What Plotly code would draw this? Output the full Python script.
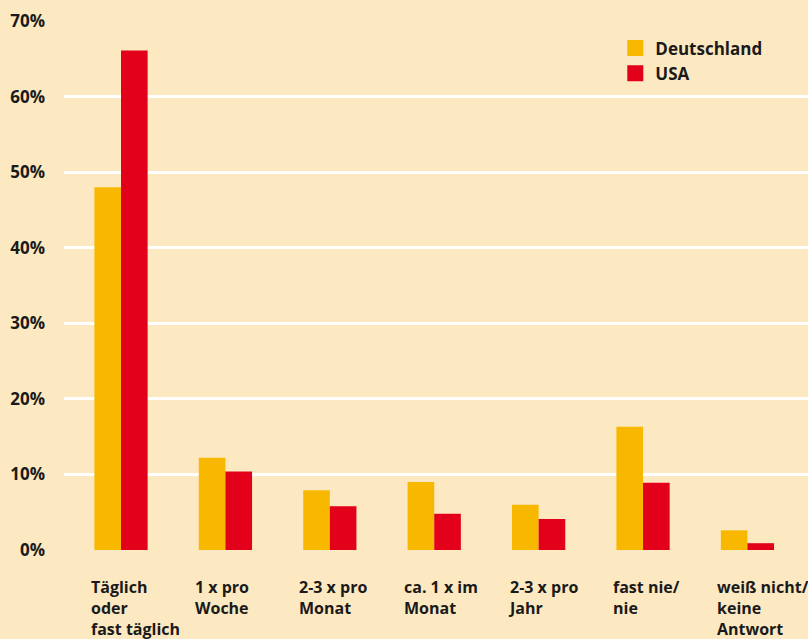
import plotly.graph_objects as go

categories = ["Täglich<br>oder<br>fast täglich", "1 x pro<br>Woche", "2-3 x pro<br>Monat",
              "ca. 1 x im<br>Monat", "2-3 x pro<br>Jahr", "fast nie/<br>nie",
              "weiß nicht/<br>keine<br>Antwort"]
deutschland = [48.0, 12.2, 7.9, 9.0, 6.0, 16.3, 2.6]
usa = [66.1, 10.4, 5.8, 4.8, 4.1, 8.9, 0.9]
y_ticks = [0, 10, 20, 30, 40, 50, 60, 70]

GOLD = "#F9B800"
RED = "#E2001A"
BG = "#FDE9C1"
FONT = "Open Sans"
INK = "#1a1a1a"

idx = list(range(len(categories)))
fig = go.Figure()
fig.add_trace(go.Bar(x=idx, y=deutschland, marker=dict(color=GOLD, line=dict(width=0)),
                     name="Deutschland", showlegend=False))
fig.add_trace(go.Bar(x=idx, y=usa, marker=dict(color=RED, line=dict(width=0)),
                     name="USA", showlegend=False))
for nm, col in [("Deutschland", GOLD), ("USA", RED)]:
    fig.add_trace(go.Scatter(x=[None], y=[None], mode="markers", name=nm,
                             marker=dict(symbol="square", size=16, color=col)))

for i, c in enumerate(categories):
    fig.add_annotation(x=i - 0.31, y=0, xref="x", yref="y", text=c, showarrow=False,
                       xanchor="left", yanchor="top", align="left", yshift=-24,
                       font=dict(family=FONT, size=16, color=INK, weight="bold"))

fig.update_layout(
    width=808, height=639,
    margin=dict(l=64, r=0, t=21, b=89),
    paper_bgcolor=BG, plot_bgcolor=BG,
    barmode="group", bargap=0.49, bargroupgap=0,
    font=dict(family=FONT, size=16, color=INK, weight="bold"),
    legend=dict(x=0.741, y=0.982, xanchor="left", yanchor="top", bgcolor="rgba(0,0,0,0)",
                font=dict(family=FONT, size=17, color=INK, weight="bold"),
                tracegroupgap=0, itemwidth=30),
    xaxis=dict(range=[-0.546, 6.58], showticklabels=False, showgrid=False,
               zeroline=False, showline=False, ticks=""),
    yaxis=dict(range=[0, 70], tickvals=y_ticks, ticktext=[f"{v}%" for v in y_ticks],
               showgrid=True, gridcolor="white", gridwidth=2.5, zeroline=False,
               showline=False, ticks="", ticklabelstandoff=18,
               tickfont=dict(family=FONT, size=17, color=INK, weight="bold")),
)
fig.write_html("out.html", config={"displayModeBar": False},
               post_script="document.body.style.margin='0';")
